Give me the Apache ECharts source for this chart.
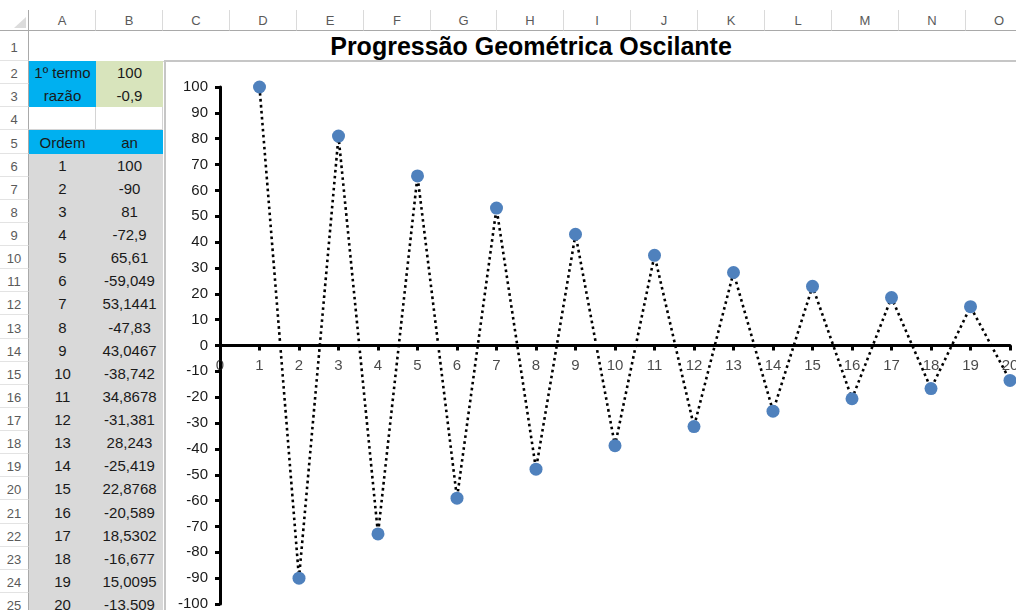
<!DOCTYPE html>
<html>
<head>
<meta charset="utf-8">
<script src="https://cdn.jsdelivr.net/npm/echarts@6/dist/echarts.min.js"></script>
<style>
  html, body { margin: 0; padding: 0; }
  body {
    width: 1016px; height: 610px; overflow: hidden; position: relative;
    background: #fff; font-family: "Liberation Sans", Arial, sans-serif;
  }
  .cell {
    position: absolute; box-sizing: border-box;
    display: flex; align-items: center; justify-content: center;
    font-size: 15px; color: #1a1a1a; white-space: nowrap;
  }
  .hdr {
    position: absolute; box-sizing: border-box;
    display: flex; align-items: center; justify-content: center;
    font-size: 13px; color: #5a5a5a; background: #fff;
  }
  .title {
    position: absolute; font-weight: bold; font-size: 25px; color: #000;
    display: flex; align-items: center; justify-content: center;
  }
  #chart { position: absolute; left: 165px; top: 61px; width: 851px; height: 549px; }
  .edge { position: absolute; background: #c6c6c6; }
</style>
</head>
<body>
<div id="sheet"></div>
<div id="chart"></div>
<div class="edge" style="left:164px;top:60px;width:852px;height:2px"></div>
<div class="edge" style="left:164px;top:60px;width:2px;height:550px"></div>
<script>
// Sheet contents
const chartTitle = 'Progressão Geométrica Oscilante';
const firstTermLabel = '1º termo';
const ratioLabel = 'razão';
const firstTerm = 100;
const ratio = -0.9;
const orderHeader = 'Ordem';
const termHeader = 'an';
const ordem = [1, 2, 3, 4, 5, 6, 7, 8, 9, 10, 11, 12, 13, 14, 15, 16, 17, 18, 19, 20];
const an = [100, -90, 81, -72.9, 65.61, -59.049, 53.1441, -47.83, 43.0467, -38.742,
            34.8678, -31.381, 28.243, -25.419, 22.8768, -20.589, 18.5302, -16.677, 15.0095, -13.509];
const xTickLabels = [0, 1, 2, 3, 4, 5, 6, 7, 8, 9, 10, 11, 12, 13, 14, 15, 16, 17, 18, 19, 20];
const colLetters = ['A', 'B', 'C', 'D', 'E', 'F', 'G', 'H', 'I', 'J', 'K', 'L', 'M', 'N', 'O'];
const rowCount = 25;

// Spreadsheet geometry
const colEdges = [29, 96, 163, 230, 297, 364, 431, 497, 564, 631, 698, 765, 832, 899, 966, 1033];
function rowTop(r) { return r === 1 ? 31 : Math.round(61 + (r - 2) * 23.13); }
const fmt = v => String(v).replace('.', ',');

const sheet = document.getElementById('sheet');
function add(cls, x, y, w, h, text, style) {
  const d = document.createElement('div');
  d.className = cls;
  d.style.left = x + 'px'; d.style.top = y + 'px';
  d.style.width = w + 'px'; d.style.height = h + 'px';
  if (style) Object.assign(d.style, style);
  if (text !== undefined) d.textContent = text;
  sheet.appendChild(d);
  return d;
}

// column headers
colLetters.forEach((L, i) => {
  add('hdr', colEdges[i], 10, colEdges[i + 1] - colEdges[i], 21, L,
      { borderRight: '1px solid #dadada', borderBottom: '1px solid #a9a9a9' });
});
// corner
add('hdr', 0, 10, 29, 21, undefined, { borderRight: '1px solid #a9a9a9', borderBottom: '1px solid #a9a9a9' });
add('hdr', 14, 17, 0, 0, undefined, {
  borderStyle: 'solid', borderWidth: '0 0 11px 12px',
  borderColor: 'transparent transparent #dcdcdc transparent', background: 'transparent'
});
// row headers
for (let r = 1; r <= rowCount; r++) {
  const y = rowTop(r), h = rowTop(r + 1) - y;
  add('hdr', 0, y, 29, h, String(r),
      { borderRight: '1px solid #a9a9a9', borderBottom: '1px solid #e3e3e3', paddingTop: '3px' });
}

// merged title row
add('title', colEdges[0], rowTop(1), colEdges[15] - colEdges[0], rowTop(2) - rowTop(1), chartTitle,
    { borderBottom: '1px solid #d4d4d4' });

// columns A and B, rows 2..25
const blue = '#00b0f0', green = '#d8e4bc', grey = '#d9d9d9';
function cellAt(c, r, text, bg) {
  const x = colEdges[c], y = rowTop(r);
  const w = colEdges[c + 1] - x, h = rowTop(r + 1) - y;
  const st = bg ? { background: bg }
                : { borderRight: '1px solid #d4d4d4', borderBottom: '1px solid #d4d4d4' };
  add('cell', x, y, w, h, text, st);
}
cellAt(0, 2, firstTermLabel, blue);
cellAt(1, 2, fmt(firstTerm), green);
cellAt(0, 3, ratioLabel, blue);
cellAt(1, 3, fmt(ratio), green);
cellAt(0, 4, '', null);
cellAt(1, 4, '', null);
cellAt(0, 5, orderHeader, blue);
cellAt(1, 5, termHeader, blue);
ordem.forEach((n, i) => {
  cellAt(0, 6 + i, String(n), grey);
  cellAt(1, 6 + i, fmt(an[i]), grey);
});

// chart
const chart = echarts.init(document.getElementById('chart'), null, { renderer: 'canvas' });
const axisFont = { fontFamily: 'Liberation Sans, Arial, sans-serif', fontSize: 15, color: '#1a1a1a' };
chart.setOption({
  animation: false,
  backgroundColor: '#fff',
  grid: { left: 55, top: 26, right: 6, bottom: 6, containLabel: false, outerBoundsMode: 'none' },
  xAxis: {
    type: 'value', min: 0, max: 20, interval: 1,
    axisLine: { onZero: true, lineStyle: { color: '#000', width: 3 } },
    axisTick: { show: true, inside: false, length: 5, lineStyle: { color: '#000', width: 3 } },
    axisLabel: { show: false },
    splitLine: { show: false }
  },
  yAxis: {
    type: 'value', min: -100, max: 100, interval: 10,
    axisLine: { show: true, lineStyle: { color: '#000', width: 3 } },
    axisTick: { show: true, inside: false, length: 5, lineStyle: { color: '#000', width: 3 } },
    axisLabel: Object.assign({ margin: 12 }, axisFont),
    splitLine: { show: false }
  },
  series: [{
    // horizontal-axis tick labels, placed just under the zero line
    type: 'scatter',
    data: xTickLabels.map(v => [v, 0]),
    symbolSize: 0,
    silent: true,
    z: 1,
    label: Object.assign({
      show: true, position: 'bottom', distance: 13,
      formatter: p => String(p.value[0])
    }, axisFont)
  }, {
    type: 'line',
    data: ordem.map((n, i) => [n, an[i]]),
    symbol: 'circle',
    symbolSize: 13,
    z: 3,
    itemStyle: { color: '#4f81bd' },
    lineStyle: { color: '#000', width: 2.6, type: [2.6, 3.4] },
    clip: false
  }]
});
</script>
</body>
</html>
